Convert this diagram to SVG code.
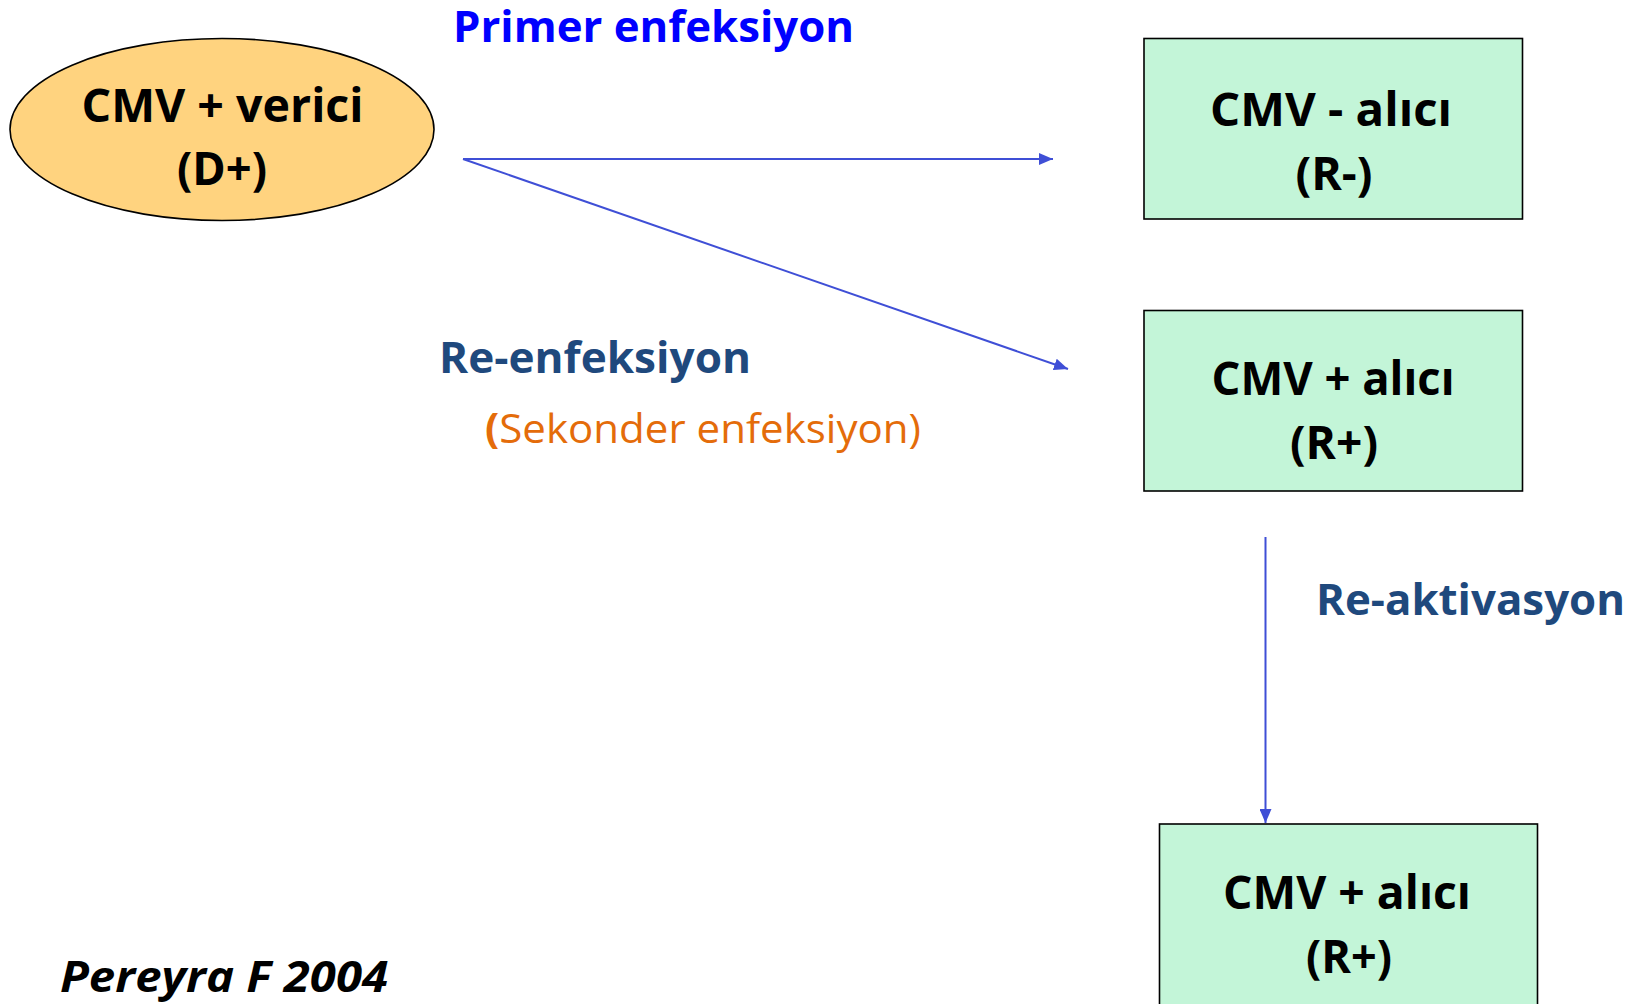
<svg xmlns="http://www.w3.org/2000/svg" width="1634" height="1004" viewBox="0 0 1634 1004">
  <style>
    .node-text { font-family: "Open Sans", "Liberation Sans", sans-serif; font-weight: 700; font-size: 47px; fill: #000; text-anchor: middle; }
    .box { fill: #C3F5D8; stroke: #000; stroke-width: 1.6; }
    .donor { fill: #FFD37F; stroke: #000; stroke-width: 1.6; }
    .conn { stroke: #3F4FD6; stroke-width: 2; fill: none; }
    .label { font-family: "Open Sans", "Liberation Sans", sans-serif; font-weight: 700; font-size: 43px; }
  </style>
  <defs>
    <marker id="arrow" markerUnits="userSpaceOnUse" markerWidth="14" markerHeight="12" refX="14" refY="6" orient="auto">
      <path d="M0,0 L14,6 L0,12 Z" fill="#3F4FD6"/>
    </marker>
  </defs>
  <rect width="1634" height="1004" fill="#FFFFFF"/>

  <!-- connectors -->
  <g id="connectors">
    <line class="conn" x1="463" y1="159" x2="1053" y2="159" marker-end="url(#arrow)"/>
    <line class="conn" x1="463" y1="159" x2="1068" y2="369" marker-end="url(#arrow)"/>
    <line class="conn" x1="1265.5" y1="537" x2="1265.5" y2="823" marker-end="url(#arrow)"/>
  </g>

  <!-- donor -->
  <g id="donor">
    <ellipse class="donor" cx="222" cy="129.5" rx="212" ry="91"/>
    <text class="node-text" x="222.5" y="122" textLength="282" lengthAdjust="spacingAndGlyphs">CMV + verici</text>
    <text class="node-text" x="222" y="185" textLength="90" lengthAdjust="spacingAndGlyphs">(D+)</text>
  </g>

  <!-- seronegative recipient -->
  <g id="recipient-neg">
    <rect class="box" x="1144" y="38.5" width="378.5" height="180.5"/>
    <text class="node-text" x="1331" y="126" textLength="242" lengthAdjust="spacingAndGlyphs">CMV - alıcı</text>
    <text class="node-text" x="1334" y="190" textLength="77" lengthAdjust="spacingAndGlyphs">(R-)</text>
  </g>

  <!-- seropositive recipient (re-infection) -->
  <g id="recipient-pos">
    <rect class="box" x="1144" y="310.5" width="378.5" height="180.5"/>
    <text class="node-text" x="1333" y="395" textLength="243" lengthAdjust="spacingAndGlyphs">CMV + alıcı</text>
    <text class="node-text" x="1334" y="459" textLength="88" lengthAdjust="spacingAndGlyphs">(R+)</text>
  </g>

  <!-- seropositive recipient (reactivation) -->
  <g id="recipient-pos-react">
    <rect class="box" x="1159.5" y="824" width="378" height="200"/>
    <text class="node-text" x="1347" y="909" textLength="248" lengthAdjust="spacingAndGlyphs">CMV + alıcı</text>
    <text class="node-text" x="1349" y="973" textLength="86" lengthAdjust="spacingAndGlyphs">(R+)</text>
  </g>

  <!-- edge labels -->
  <g id="labels">
    <text class="label" x="453" y="42" fill="#0000FF" textLength="401" lengthAdjust="spacingAndGlyphs">Primer enfeksiyon</text>
    <text class="label" x="439" y="373" fill="#1F497D" textLength="312" lengthAdjust="spacingAndGlyphs">Re-enfeksiyon</text>
    <text x="485" y="443" fill="#E46C0A" font-family="Open Sans, Liberation Sans, sans-serif" font-size="41" textLength="436" lengthAdjust="spacingAndGlyphs"><tspan font-weight="700">(</tspan>Sekonder enfeksiyon)</text>
    <text class="label" x="1316" y="615" fill="#1F497D" textLength="309" lengthAdjust="spacingAndGlyphs">Re-aktivasyon</text>
  </g>

  <!-- citation -->
  <text x="60" y="992" font-family="Open Sans, Liberation Sans, sans-serif" font-weight="700" font-style="italic" font-size="43" fill="#000" textLength="328" lengthAdjust="spacingAndGlyphs">Pereyra F 2004</text>
</svg>
